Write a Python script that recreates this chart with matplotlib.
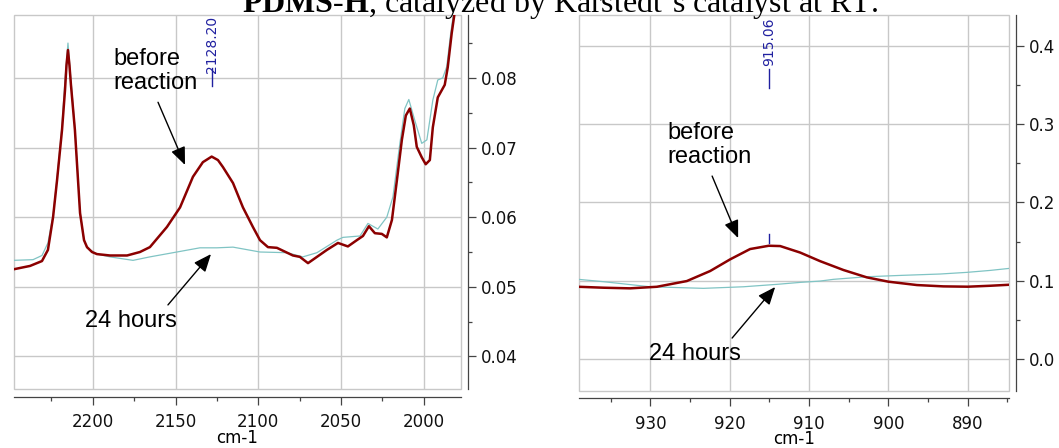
import matplotlib.pyplot as plt
import matplotlib.transforms as mtransforms
from matplotlib.patches import Rectangle
from matplotlib.ticker import MultipleLocator, FormatStrFormatter

plt.rcParams['font.family'] = 'DejaVu Sans'
plt.rcParams['mathtext.fontset'] = 'custom'
plt.rcParams['mathtext.rm'] = 'Liberation Serif'
plt.rcParams['mathtext.bf'] = 'Liberation Serif:bold'

RED = '#8b0000'
TEAL = '#80c4c4'
BLUE = '#2020a0'
GRID = '#c8c8c8'
AXIS = '#444444'

# Si-H stretch region, before reaction
wn_sih_before = [2248.2, 2237.9, 2230.7, 2227.1, 2224.0, 2221.6, 2218.6, 2216.8,
                 2215.9, 2215.0, 2214.1, 2213.2, 2210.8, 2207.7, 2205.3, 2203.5,
                 2200.5, 2197.5, 2189.6, 2179.3, 2171.5, 2165.5, 2155.2, 2147.3,
                 2139.5, 2133.5, 2128.2, 2124.4, 2121.4, 2115.3, 2109.3, 2103.3,
                 2099.0, 2094.2, 2088.8, 2079.1, 2074.9, 2070.0, 2064.6, 2058.6,
                 2051.9, 2045.9, 2040.5, 2036.8, 2033.2, 2029.6, 2025.4, 2022.4,
                 2019.3, 2016.3, 2013.3, 2010.9, 2008.5, 2006.1, 2004.3, 2001.3,
                 1998.9, 1996.4, 1994.6, 1991.6, 1987.4, 1985.6, 1983.2, 1980.8]
abs_sih_before = [0.0525, 0.0530, 0.0537, 0.0553, 0.0600, 0.0653, 0.0725, 0.0782,
                  0.0818, 0.0840, 0.0818, 0.0790, 0.0725, 0.0606, 0.0567, 0.0557,
                  0.0550, 0.0547, 0.0545, 0.0545, 0.0550, 0.0557, 0.0586, 0.0614,
                  0.0658, 0.0679, 0.0687, 0.0682, 0.0672, 0.0649, 0.0614, 0.0586,
                  0.0567, 0.0557, 0.0556, 0.0545, 0.0543, 0.0534, 0.0543, 0.0553,
                  0.0563, 0.0558, 0.0567, 0.0573, 0.0587, 0.0577, 0.0576, 0.0571,
                  0.0596, 0.0653, 0.0711, 0.0746, 0.0756, 0.0732, 0.0701, 0.0686,
                  0.0676, 0.0682, 0.0729, 0.0772, 0.0790, 0.0815, 0.0864, 0.0904]

# Si-H stretch region, after 24 hours
wn_sih_24h = [2248.2, 2236.1, 2230.7, 2227.1, 2224.0, 2221.6, 2218.6, 2216.8,
              2215.0, 2213.2, 2210.8, 2207.7, 2205.3, 2203.5, 2197.5, 2189.6,
              2175.7, 2165.5, 2149.2, 2135.3, 2125.0, 2115.3, 2099.0, 2082.7,
              2073.1, 2064.6, 2052.5, 2048.9, 2038.6, 2033.8, 2027.8, 2022.4,
              2018.7, 2014.5, 2011.5, 2009.1, 2005.5, 2001.3, 1998.2, 1994.6,
              1991.6, 1988.6, 1986.2, 1983.8, 1981.4]
abs_sih_24h = [0.0538, 0.0539, 0.0545, 0.0563, 0.0603, 0.0656, 0.0732, 0.0797,
               0.0850, 0.0797, 0.0728, 0.0607, 0.0567, 0.0556, 0.0547, 0.0543,
               0.0538, 0.0543, 0.0550, 0.0556, 0.0556, 0.0557, 0.0550, 0.0549,
               0.0543, 0.0549, 0.0567, 0.0571, 0.0573, 0.0591, 0.0583, 0.0600,
               0.0629, 0.0706, 0.0756, 0.0769, 0.0739, 0.0706, 0.0711, 0.0768,
               0.0797, 0.0800, 0.0816, 0.0864, 0.0904]
peak_sih = 2128.20

# Si-H bending region
wn_bend_before = [939.07, 935.91, 932.55, 929.18, 925.40, 922.46, 919.94, 917.42,
                  915.06, 913.63, 911.11, 908.59, 905.65, 902.70, 899.98, 896.39,
                  893.04, 889.96, 887.15, 884.72]
abs_bend_before = [0.0923, 0.0911, 0.0903, 0.0923, 0.0996, 0.1124, 0.1273, 0.1405,
                   0.1447, 0.1443, 0.1360, 0.1250, 0.1137, 0.1043, 0.0988, 0.0945,
                   0.0928, 0.0924, 0.0936, 0.0949]
wn_bend_24h = [939.07, 935.91, 930.03, 923.30, 918.26, 914.05, 911.11, 908.59,
               906.91, 902.70, 898.50, 893.46, 890.09, 887.15, 884.72]
abs_bend_24h = [0.1018, 0.0988, 0.0923, 0.0903, 0.0923, 0.0954, 0.0979, 0.0996,
                0.1018, 0.1051, 0.1068, 0.1086, 0.1107, 0.1132, 0.1158]
peak_bend = 915.06


def style_axes(ax, xlim, ylim, xmaj, xmin, ymaj, ymin, yfmt):
    ax.set_xlim(*xlim)
    ax.set_ylim(*ylim)
    ax.xaxis.set_major_locator(MultipleLocator(xmaj))
    ax.xaxis.set_minor_locator(MultipleLocator(xmin))
    ax.yaxis.set_major_locator(MultipleLocator(ymaj))
    ax.yaxis.set_minor_locator(MultipleLocator(ymin))
    ax.yaxis.set_major_formatter(FormatStrFormatter(yfmt))
    ax.yaxis.tick_right()
    ax.grid(True, color=GRID, lw=1.0)
    ax.set_axisbelow(True)
    for s in ('top', 'left'):
        ax.spines[s].set_visible(False)
    ax.spines['bottom'].set_position(('outward', 5.5))
    ax.spines['right'].set_position(('outward', 5))
    for s in ('bottom', 'right'):
        ax.spines[s].set_color(AXIS)
        ax.spines[s].set_linewidth(0.9)
    # light frame round the plotting area
    ax.add_patch(Rectangle((0, 0), 1, 1, transform=ax.transAxes, fill=False,
                           ec=GRID, lw=1.0, clip_on=False, zorder=0.5))
    ax.tick_params(which='both', colors=AXIS, labelcolor='#111111', width=0.9,
                   labelsize=12)
    ax.tick_params(axis='x', which='major', length=5.8, pad=6)
    ax.tick_params(axis='x', which='minor', length=3.2)
    ax.tick_params(axis='y', which='major', length=6, pad=3)
    ax.tick_params(axis='y', which='minor', length=3.1)
    ax.set_xlabel('cm-1', fontsize=12, labelpad=-1.5)


def peak_label(ax, x, text, line_lo, line_hi, text_lo):
    trans = mtransforms.blended_transform_factory(ax.transData, ax.transAxes)
    ax.plot([x, x], [line_lo, line_hi], color=BLUE, lw=1.0, transform=trans)
    ax.text(x, text_lo, text, rotation=90, ha='center', va='bottom',
            color=BLUE, fontsize=10, transform=trans)


def arrow(ax, start, tip):
    ax.annotate('', xy=tip, xytext=start,
                arrowprops=dict(arrowstyle='-|>,head_length=0.6,head_width=0.25',
                                color='black', lw=1.0, mutation_scale=18,
                                shrinkA=0, shrinkB=0))


fig = plt.figure(figsize=(10.59, 4.48), dpi=100)

# left panel: Si-H stretch
ax1 = fig.add_axes([0.01275, 0.13125, 0.4230, 0.8348])
ax1.plot(wn_sih_24h, abs_sih_24h, color=TEAL, lw=0.9)
ax1.plot(wn_sih_before, abs_sih_before, color=RED, lw=1.8)
style_axes(ax1, (2247.9, 1977.3), (0.0353, 0.0890), 50, 25, 0.01, 0.005, '%.2f')
peak_label(ax1, peak_sih, '%.2f' % peak_sih, 0.8107, 0.8588, 0.8455)
ax1.text(2187.8, 0.0810, 'before\nreaction', fontsize=17, family='Liberation Sans',
         ha='left', va='center', linespacing=1.15)
arrow(ax1, (2160.6, 0.0765), (2144.3, 0.0675))
ax1.text(2176.9, 0.0442, '24 hours', fontsize=17, family='Liberation Sans',
         ha='center', va='baseline')
arrow(ax1, (2154.6, 0.0474), (2128.6, 0.0547))

# right panel: Si-H bend
ax2 = fig.add_axes([0.5467, 0.1283, 0.4063, 0.8377])
ax2.plot(wn_bend_24h, abs_bend_24h, color=TEAL, lw=0.9)
ax2.plot(wn_bend_before, abs_bend_before, color=RED, lw=1.8)
style_axes(ax2, (939.0, 884.75), (-0.0402, 0.4391), 10, 5, 0.1, 0.05, '%.1f')
peak_label(ax2, peak_bend, '%.2f' % peak_bend, 0.806, 0.8567, 0.8646)
trans2 = mtransforms.blended_transform_factory(ax2.transData, ax2.transAxes)
ax2.plot([peak_bend, peak_bend], [0.393, 0.417], color=BLUE, lw=1.0, transform=trans2)
ax2.text(927.88, 0.2733, 'before\nreaction', fontsize=17, family='Liberation Sans',
         ha='left', va='center', linespacing=1.15)
arrow(ax2, (922.21, 0.2337), (918.93, 0.1545))
ax2.text(924.35, -0.0013, '24 hours', fontsize=17, family='Liberation Sans',
         ha='center', va='baseline')
arrow(ax2, (919.69, 0.0268), (914.26, 0.0920))

fig.text(560 / 1059, 1 - 12 / 448,
         r'$\mathbf{PDMS}$-$\mathbf{H}$, catalyzed by Karstedt’s catalyst at RT.',
         fontsize=23, family='Liberation Serif', ha='center', va='baseline')

fig.savefig('out.png', dpi=100)
